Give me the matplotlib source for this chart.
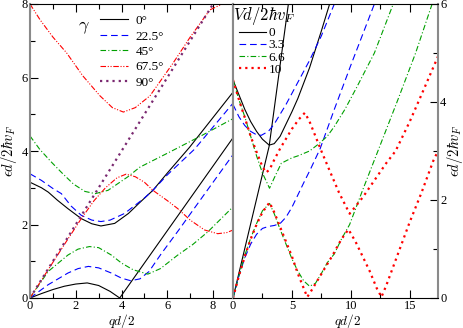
import matplotlib
matplotlib.use('Agg')
import matplotlib.pyplot as plt
from matplotlib.lines import Line2D

plt.rcParams['font.family'] = ['Liberation Serif', 'DejaVu Serif']
plt.rcParams['mathtext.fontset'] = 'cm'

# ---- left panel: angle gamma ----
g_labels = ['0°', '22.5°', '45°', '67.5°', '90°']

x_g0_lo = [0, 0.5, 1, 1.5, 2, 2.5, 3, 3.5, 3.92, 8.87]
e_g0_lo = [0, 0.12, 0.23, 0.32, 0.38, 0.41, 0.34, 0.18, 0, 4.36]
x_g0_up = [0, 0.5, 0.8, 1.2, 1.66, 2.24, 2.7, 3.1, 3.7, 4.3, 4.8, 5.37, 6.0, 6.97, 8.87]
e_g0_up = [3.15, 3.0, 2.88, 2.66, 2.43, 2.16, 2.02, 1.96, 2.03, 2.3, 2.6, 2.93, 3.4, 4.1, 5.6]

x_g22_lo = [0, 0.79, 1.66, 2.1, 2.55, 3.0, 3.55, 4.0, 4.4, 4.8, 5.2, 5.73, 6.5, 7.19, 8.0, 8.87]
e_g22_lo = [0, 0.36, 0.68, 0.8, 0.86, 0.82, 0.68, 0.54, 0.47, 0.52, 0.72, 1.2, 1.85, 2.45, 3.15, 3.9]
x_g22_up = [0, 0.5, 1.0, 1.37, 1.8, 2.24, 2.7, 3.1, 3.5, 4.13, 4.5, 5.0, 5.4, 6.0, 7.19, 8.87]
e_g22_up = [3.38, 3.2, 2.98, 2.84, 2.5, 2.25, 2.12, 2.08, 2.12, 2.3, 2.48, 2.72, 2.95, 3.35, 4.05, 5.3]

x_g45_lo = [0, 0.79, 1.66, 2.1, 2.6, 3.0, 3.55, 4.0, 4.5, 5.15, 5.7, 6.46, 7.1, 7.77, 8.87]
e_g45_lo = [0, 0.72, 1.17, 1.33, 1.4, 1.37, 1.17, 0.95, 0.77, 0.65, 0.8, 1.17, 1.45, 1.8, 2.48]
x_g45_up = [0, 0.42, 0.9, 1.37, 1.9, 2.4, 2.85, 3.41, 4.28, 4.8, 6.1, 7.5, 8.87]
e_g45_up = [4.41, 4.05, 3.72, 3.42, 3.1, 2.9, 2.84, 2.93, 3.3, 3.56, 3.97, 4.42, 4.88]

x_g67_lo = [0, 1.0, 1.6, 2.24, 2.8, 3.3, 3.8, 4.2, 4.6, 5.0, 5.37, 6.0, 6.46, 7.0, 7.63, 8.2, 8.6, 8.87]
e_g67_lo = [0, 0.97, 1.55, 2.16, 2.65, 3.0, 3.27, 3.37, 3.3, 3.15, 2.93, 2.65, 2.43, 2.12, 1.85, 1.75, 1.78, 1.85]
x_g67_up = [0, 0.44, 1.0, 1.6, 2.3, 3.06, 3.6, 4.08, 4.6, 5.24, 6.26, 7.0, 7.86, 8.4, 8.87]
e_g67_up = [8.0, 7.57, 7.1, 6.67, 6.05, 5.5, 5.18, 5.06, 5.18, 5.5, 6.4, 7.1, 7.84, 8.0, 8.1]

x_g90 = [0, 8.0]
e_g90 = [0, 8.0]

# ---- right panel: barrier strength Vd/2hv_F ----
v_labels = ['0', '3.3', '6.6', '10']

x_v0_a = [0, 3.07, 4.7]
e_v0_a = [0, 3.1, 6.0]
x_v0_b = [0, 0.5, 1, 1.5, 2, 2.5, 3.07, 3.5, 4, 4.5, 5, 5.5, 6.5, 7.5, 8.2]
e_v0_b = [4.45, 4.15, 3.85, 3.6, 3.4, 3.24, 3.12, 3.15, 3.3, 3.55, 3.8, 4.07, 4.7, 5.45, 6.0]

x_v3_lo = [0, 0.5, 1, 1.5, 2, 2.5, 3, 3.5, 4, 4.5, 5, 5.5, 6, 6.6, 7.4, 8.6, 10, 12]
e_v3_lo = [0, 0.45, 0.82, 1.1, 1.3, 1.42, 1.46, 1.48, 1.52, 1.65, 1.85, 2.1, 2.35, 2.64, 3.05, 3.85, 4.75, 6.0]
x_v3_up = [0, 0.5, 1, 1.5, 2, 2.4, 3, 3.5, 4.5, 5.5, 6.5, 7.5, 8.6]
e_v3_up = [3.95, 3.7, 3.52, 3.4, 3.33, 3.32, 3.4, 3.55, 3.95, 4.4, 4.85, 5.35, 6.0]

x_v6_lo = [0, 0.5, 1, 1.5, 2, 2.5, 3.1, 3.5, 4, 4.5, 5, 5.5, 6, 6.5, 7, 7.5, 8, 8.6, 9.2, 9.9, 11, 12.3, 14, 15.5, 16.9]
e_v6_lo = [0, 0.45, 0.87, 1.22, 1.52, 1.78, 1.93, 1.72, 1.4, 1.1, 0.8, 0.55, 0.35, 0.24, 0.3, 0.5, 0.72, 0.9, 1.2, 1.5, 2.2, 3.0, 4.05, 5.0, 6.0]
x_v6_up = [0, 0.5, 1, 1.5, 2, 2.5, 3.1, 3.5, 4.1, 5, 5.5, 6.5, 7.3, 8.0, 8.6, 9.5, 10.5, 12, 13.6]
e_v6_up = [4.45, 4.05, 3.7, 3.3, 2.9, 2.55, 2.24, 2.45, 2.75, 2.86, 2.9, 3.0, 3.15, 3.3, 3.5, 3.85, 4.3, 5.0, 6.0]

x_v10_lo = [0, 0.5, 1, 1.5, 2, 2.5, 3.1, 3.5, 4, 4.5, 5, 5.5, 6.0, 6.3, 6.6, 7.4, 8.4, 9.2, 9.8,
            10.4, 11, 11.6, 12.2, 12.6, 13, 14, 15, 16, 17, 17.4]
e_v10_lo = [0, 0.45, 0.85, 1.2, 1.5, 1.75, 1.95, 1.75, 1.45, 1.15, 0.85, 0.5, 0.2, 0.02, 0.13, 0.45, 0.85, 1.2, 1.4,
            1.15, 0.85, 0.55, 0.2, 0.02, 0.25, 0.9, 1.55, 2.15, 2.8, 3.0]
x_v10_up = [0, 0.5, 1, 1.5, 2, 2.5, 2.8, 3.1, 3.5, 4, 5, 5.6, 6.1, 6.5, 7.0, 7.5, 8.2, 9, 9.9,
            11, 12, 13, 13.8, 15, 16, 17.4]
e_v10_up = [4.45, 4.05, 3.68, 3.3, 2.98, 2.68, 2.56, 2.62, 2.82, 3.05, 3.45, 3.65, 3.78, 3.6, 3.3, 3.0, 2.6, 2.15, 1.72,
            2.05, 2.4, 2.75, 3.0, 3.6, 4.15, 4.93]

BLUE = '#0000ff'
GREEN = '#00a000'
RED = '#ff0000'
PURPLE = '#7a2870'
GRAY = '#8a8a8a'

fig = plt.figure(figsize=(4.64, 3.28), dpi=100)
ax1 = fig.add_axes([30 / 464, 30 / 328, 203 / 464, 294 / 328])
ax2 = fig.add_axes([233 / 464, 30 / 328, 205 / 464, 294 / 328])

lw = 0.8
sty_k = dict(color='black', lw=lw, ls='-')
sty_b = dict(color=BLUE, lw=lw, ls=(0, (6, 3.5)))
sty_g = dict(color=GREEN, lw=lw, ls=(0, (5, 2, 1, 2)))
sty_r = dict(color=RED, lw=lw, ls=(0, (5, 1.5, 1, 1.5, 1, 1.5)))
sty_p = dict(color=PURPLE, lw=1.6, ls=(0, (1, 1.8)))
sty_rd = dict(color=RED, lw=1.6, ls=(0, (1, 1.8)))

ax1.plot(x_g0_lo, e_g0_lo, **sty_k)
ax1.plot(x_g0_up, e_g0_up, **sty_k)
ax1.plot(x_g22_lo, e_g22_lo, **sty_b)
ax1.plot(x_g22_up, e_g22_up, **sty_b)
ax1.plot(x_g45_lo, e_g45_lo, **sty_g)
ax1.plot(x_g45_up, e_g45_up, **sty_g)
ax1.plot(x_g67_lo, e_g67_lo, **sty_r)
ax1.plot(x_g67_up, e_g67_up, **sty_r)
ax1.plot(x_g90, e_g90, **sty_p)

ax2.plot(x_v0_a, e_v0_a, **sty_k)
ax2.plot(x_v0_b, e_v0_b, **sty_k)
ax2.plot(x_v3_lo, e_v3_lo, **sty_b)
ax2.plot(x_v3_up, e_v3_up, **sty_b)
ax2.plot(x_v6_lo, e_v6_lo, **sty_g)
ax2.plot(x_v6_up, e_v6_up, **sty_g)
ax2.plot(x_v10_lo, e_v10_lo, **sty_rd)
ax2.plot(x_v10_up, e_v10_up, **sty_rd)

# axes ranges and ticks
ax1.set_xlim(0, 8.87)
ax1.set_ylim(0, 8)
ax1.set_xticks([0, 2, 4, 6, 8])
ax1.set_xticks([1, 3, 5, 7], minor=True)
ax1.set_yticks([0, 2, 4, 6, 8])
ax1.set_yticks([1, 3, 5, 7], minor=True)
ax1.tick_params(which='both', direction='in', top=True, right=False, labelsize=9, pad=1.5)
ax1.tick_params(which='major', length=5.5, width=0.8)
ax1.tick_params(which='minor', length=3.5, width=0.8)

ax2.set_xlim(0, 17.4)
ax2.set_ylim(0, 6)
ax2.set_xticks([0, 5, 10, 15])
ax2.set_xticks([2.5, 7.5, 12.5], minor=True)
ax2.set_yticks([0, 2, 4, 6])
ax2.set_yticks([1, 3, 5], minor=True)
ax2.yaxis.tick_right()
ax2.yaxis.set_label_position('right')
ax2.tick_params(which='both', direction='in', top=True, left=False, right=True, labelsize=9, pad=1.5)
ax2.tick_params(which='major', length=5.5, width=0.8)
ax2.tick_params(which='minor', length=3.5, width=0.8)

for ax in (ax1, ax2):
    ax.spines['top'].set_linewidth(0.8)
    ax.spines['bottom'].set_linewidth(0.8)
    ax.spines['left'].set_color(GRAY)
    ax.spines['left'].set_linewidth(1.5)
    ax.spines['right'].set_color(GRAY)
    ax.spines['right'].set_linewidth(1.5)

ax1.set_xlabel('$qd/2$', fontsize=9.5)
ax1.xaxis.set_label_coords(0.45, -0.046)
ax2.set_xlabel('$qd/2$', fontsize=9.5)
ax2.xaxis.set_label_coords(0.56, -0.046)
ax1.set_ylabel(r'$\epsilon d/2\hbar v_F$', fontsize=10.5)
ax1.yaxis.set_label_coords(-0.054, 0.5)
ax2.set_ylabel(r'$\epsilon d/2\hbar v_F$', fontsize=10.5, rotation=90)
ax2.yaxis.set_label_coords(1.036, 0.5)

# legends
h1 = [Line2D([], [], **s) for s in (sty_k, sty_b, sty_g, sty_r, sty_p)]
ax1.legend(h1, g_labels, loc='upper left', bbox_to_anchor=(0.345, 0.963),
           frameon=False, fontsize=9.5, handlelength=2.1, handletextpad=0.6,
           labelspacing=0.24, borderpad=0, borderaxespad=0)
ax1.text(0.235, 0.92, r'$\gamma$', transform=ax1.transAxes, fontsize=13, ha='left', va='center')

h2 = [Line2D([], [], **s) for s in (sty_k, sty_b, sty_g, sty_rd)]
ax2.legend(h2, v_labels, loc='upper left', bbox_to_anchor=(0.03, 0.922),
           frameon=False, fontsize=9.5, handlelength=2.0, handletextpad=0.25,
           labelspacing=0.0, borderpad=0, borderaxespad=0)
ax2.text(0.0, 0.96, r'$Vd/2\hbar v_F$', transform=ax2.transAxes, fontsize=12, ha='left', va='center')

fig.savefig('out.png', dpi=100)
